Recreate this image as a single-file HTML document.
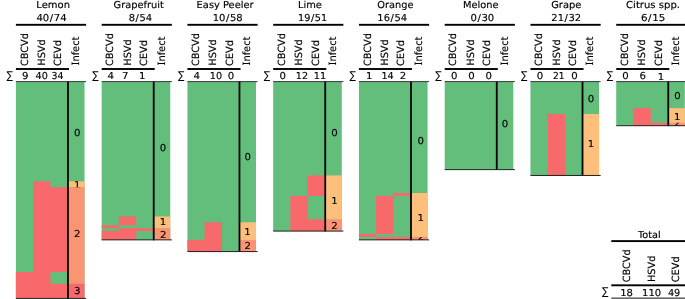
<!DOCTYPE html>
<html lang="en"><head><meta charset="utf-8"><title>Viroid infections</title>
<style>
html,body{margin:0;padding:0;background:#fff;}
body{width:685px;height:299px;overflow:hidden;}
svg{display:block;font-family:"DejaVu Sans","Liberation Sans",sans-serif;}
svg text{text-rendering:geometricPrecision;font-size:9.6px;fill:#000;stroke:#000;stroke-width:0.15px;}
svg text.sg{font-size:10.9px;stroke-width:0;}
</style></head><body>
<svg width="685" height="299" viewBox="0 0 685 299">
<rect x="0" y="0" width="685" height="299" fill="#fff"/>
<text transform="translate(36.29,7.60) scale(1.0407,1)">Lemon</text>
<text transform="translate(36.41,20.65) scale(1.0475,1)">40<tspan dx="0.55">/</tspan><tspan dx="0.55">74</tspan></text>
<rect x="15.90" y="23.85" width="70.20" height="1.90" fill="#000"/>
<text transform="translate(27.55,65.96) scale(1.04,1) rotate(-90) scale(1.0104,1)">CBCVd</text>
<text transform="translate(44.95,65.64) scale(1.04,1) rotate(-90) scale(1.0124,1)">HSVd</text>
<text transform="translate(61.35,65.96) scale(1.04,1) rotate(-90) scale(1.0197,1)">CEVd</text>
<text transform="translate(78.75,65.46) scale(1.04,1) rotate(-90) scale(1.0236,1)"><tspan font-family="DejaVu Serif, Liberation Serif, serif">I</tspan>nfect</text>
<rect x="15.90" y="68.05" width="53.10" height="1.90" fill="#000"/>
<text transform="translate(21.97,78.80) scale(1.0600,1)">9</text>
<text transform="translate(35.62,78.80) scale(1.0044,1)">40</text>
<text transform="translate(51.49,78.80) scale(0.9708,1)">34</text>
<text class="sg" transform="translate(6.49,78.80) scale(0.8714,0.9900)">∑</text>
<rect x="15.90" y="81.80" width="68.60" height="216.60" fill="#63be7b"/>
<rect x="15.90" y="272.06" width="17.45" height="26.34" fill="#f8696b"/>
<rect x="33.05" y="181.32" width="17.45" height="117.08" fill="#f8696b"/>
<rect x="50.20" y="187.17" width="17.45" height="84.88" fill="#f8696b"/>
<rect x="50.20" y="283.76" width="17.45" height="14.63" fill="#f8696b"/>
<rect x="31.85" y="272.06" width="2.40" height="26.34" fill="#f8696b"/>
<rect x="49.00" y="187.17" width="2.40" height="84.88" fill="#f8696b"/>
<rect x="49.00" y="283.76" width="2.40" height="14.63" fill="#f8696b"/>
<rect x="67.35" y="181.32" width="17.15" height="6.15" fill="#fdc07c"/>
<rect x="67.35" y="187.17" width="17.15" height="96.89" fill="#fa9473"/>
<rect x="67.35" y="283.76" width="17.15" height="14.63" fill="#f8696b"/>
<clipPath id="c0_0"><rect x="67.35" y="81.80" width="17.15" height="99.52"/></clipPath>
<g clip-path="url(#c0_0)">
<text transform="translate(74.02,135.76) scale(1.0600,1)">0</text>
</g>
<clipPath id="c0_1"><rect x="67.35" y="181.32" width="17.15" height="5.85"/></clipPath>
<g clip-path="url(#c0_1)">
<text transform="translate(73.89,187.84) scale(1.0600,1)">1</text>
</g>
<clipPath id="c0_2"><rect x="67.35" y="187.17" width="17.15" height="96.59"/></clipPath>
<g clip-path="url(#c0_2)">
<text transform="translate(74.09,236.77) scale(1.0600,1)">2</text>
</g>
<clipPath id="c0_3"><rect x="67.35" y="283.76" width="17.15" height="14.63"/></clipPath>
<g clip-path="url(#c0_3)">
<text transform="translate(74.02,294.28) scale(1.0600,1)">3</text>
</g>
<rect x="15.90" y="81.20" width="70.20" height="0.90" fill="#222"/>
<rect x="67.05" y="81.60" width="1.80" height="217.20" fill="#000"/>
<rect x="15.90" y="297.90" width="70.20" height="1.00" fill="#222"/>
<text transform="translate(113.59,7.60) scale(1.0233,1)">Grapefruit</text>
<text transform="translate(128.65,20.65) scale(1.0326,1)">8<tspan dx="0.55">/</tspan><tspan dx="0.55">54</tspan></text>
<rect x="101.66" y="23.85" width="70.20" height="1.90" fill="#000"/>
<text transform="translate(113.31,65.96) scale(1.04,1) rotate(-90) scale(1.0104,1)">CBCVd</text>
<text transform="translate(130.71,65.64) scale(1.04,1) rotate(-90) scale(1.0124,1)">HSVd</text>
<text transform="translate(147.11,65.96) scale(1.04,1) rotate(-90) scale(1.0197,1)">CEVd</text>
<text transform="translate(164.51,65.46) scale(1.04,1) rotate(-90) scale(1.0236,1)"><tspan font-family="DejaVu Serif, Liberation Serif, serif">I</tspan>nfect</text>
<rect x="101.66" y="68.05" width="53.10" height="1.90" fill="#000"/>
<text transform="translate(107.57,78.80) scale(1.0600,1)">4</text>
<text transform="translate(121.90,78.80) scale(1.0600,1)">7</text>
<text transform="translate(138.89,78.80) scale(1.0600,1)">1</text>
<text class="sg" transform="translate(92.25,78.80) scale(0.8714,0.9900)">∑</text>
<rect x="101.66" y="81.80" width="68.60" height="158.06" fill="#63be7b"/>
<rect x="101.66" y="225.22" width="17.45" height="2.93" fill="#f8696b"/>
<rect x="101.66" y="231.08" width="17.45" height="8.78" fill="#f8696b"/>
<rect x="118.81" y="216.44" width="17.45" height="8.78" fill="#f8696b"/>
<rect x="118.81" y="228.15" width="17.45" height="11.71" fill="#f8696b"/>
<rect x="135.96" y="228.15" width="17.45" height="2.93" fill="#f8696b"/>
<rect x="117.61" y="231.08" width="2.40" height="8.78" fill="#f8696b"/>
<rect x="134.76" y="228.15" width="2.40" height="2.93" fill="#f8696b"/>
<rect x="153.11" y="216.44" width="17.15" height="12.01" fill="#fdc07c"/>
<rect x="153.11" y="228.15" width="17.15" height="11.71" fill="#fa9473"/>
<clipPath id="c1_0"><rect x="153.11" y="81.80" width="17.15" height="134.64"/></clipPath>
<g clip-path="url(#c1_0)">
<text transform="translate(159.83,151.12) scale(1.0600,1)">0</text>
</g>
<clipPath id="c1_1"><rect x="153.11" y="216.44" width="17.15" height="11.71"/></clipPath>
<g clip-path="url(#c1_1)">
<text transform="translate(159.70,225.10) scale(1.0600,1)">1</text>
</g>
<clipPath id="c1_2"><rect x="153.11" y="228.15" width="17.15" height="11.71"/></clipPath>
<g clip-path="url(#c1_2)">
<text transform="translate(159.90,238.00) scale(1.0600,1)">2</text>
</g>
<rect x="101.66" y="81.20" width="70.20" height="0.90" fill="#222"/>
<rect x="152.81" y="81.60" width="1.80" height="158.66" fill="#000"/>
<rect x="101.66" y="239.36" width="70.20" height="1.00" fill="#222"/>
<text transform="translate(196.60,7.60) scale(1.0288,1)">Easy Peeler</text>
<text transform="translate(212.66,20.65) scale(1.0433,1)">10<tspan dx="0.55">/</tspan><tspan dx="0.55">58</tspan></text>
<rect x="187.42" y="23.85" width="70.20" height="1.90" fill="#000"/>
<text transform="translate(199.07,65.96) scale(1.04,1) rotate(-90) scale(1.0104,1)">CBCVd</text>
<text transform="translate(216.47,65.64) scale(1.04,1) rotate(-90) scale(1.0124,1)">HSVd</text>
<text transform="translate(232.87,65.96) scale(1.04,1) rotate(-90) scale(1.0197,1)">CEVd</text>
<text transform="translate(250.27,65.46) scale(1.04,1) rotate(-90) scale(1.0236,1)"><tspan font-family="DejaVu Serif, Liberation Serif, serif">I</tspan>nfect</text>
<rect x="187.42" y="68.05" width="53.10" height="1.90" fill="#000"/>
<text transform="translate(193.57,78.80) scale(1.0600,1)">4</text>
<text transform="translate(209.79,78.80) scale(1.0071,1)">10</text>
<text transform="translate(227.87,78.80) scale(1.0600,1)">0</text>
<text class="sg" transform="translate(178.01,78.80) scale(0.8714,0.9900)">∑</text>
<rect x="187.42" y="81.80" width="68.60" height="169.77" fill="#63be7b"/>
<rect x="187.42" y="239.86" width="17.45" height="11.71" fill="#f8696b"/>
<rect x="204.57" y="222.30" width="17.45" height="29.27" fill="#f8696b"/>
<rect x="203.37" y="239.86" width="2.40" height="11.71" fill="#f8696b"/>
<rect x="238.87" y="222.30" width="17.15" height="17.86" fill="#fdc07c"/>
<rect x="238.87" y="239.86" width="17.15" height="11.71" fill="#fa9473"/>
<clipPath id="c2_0"><rect x="238.87" y="81.80" width="17.15" height="140.50"/></clipPath>
<g clip-path="url(#c2_0)">
<text transform="translate(244.44,160.05) scale(1.0600,1)">0</text>
</g>
<clipPath id="c2_1"><rect x="238.87" y="222.30" width="17.15" height="17.56"/></clipPath>
<g clip-path="url(#c2_1)">
<text transform="translate(244.31,234.58) scale(1.0600,1)">1</text>
</g>
<clipPath id="c2_2"><rect x="238.87" y="239.86" width="17.15" height="11.71"/></clipPath>
<g clip-path="url(#c2_2)">
<text transform="translate(244.51,249.21) scale(1.0600,1)">2</text>
</g>
<rect x="187.42" y="81.20" width="70.20" height="0.90" fill="#222"/>
<rect x="238.57" y="81.60" width="1.80" height="170.37" fill="#000"/>
<rect x="187.42" y="251.07" width="70.20" height="1.00" fill="#222"/>
<text transform="translate(297.90,7.60) scale(1.0286,1)">Lime</text>
<text transform="translate(297.99,20.65) scale(1.0148,1)">19<tspan dx="0.55">/</tspan><tspan dx="0.55">51</tspan></text>
<rect x="273.18" y="23.85" width="70.20" height="1.90" fill="#000"/>
<text transform="translate(284.83,65.96) scale(1.04,1) rotate(-90) scale(1.0104,1)">CBCVd</text>
<text transform="translate(302.23,65.64) scale(1.04,1) rotate(-90) scale(1.0124,1)">HSVd</text>
<text transform="translate(318.63,65.96) scale(1.04,1) rotate(-90) scale(1.0197,1)">CEVd</text>
<text transform="translate(336.03,65.46) scale(1.04,1) rotate(-90) scale(1.0236,1)"><tspan font-family="DejaVu Serif, Liberation Serif, serif">I</tspan>nfect</text>
<rect x="273.18" y="68.05" width="53.10" height="1.90" fill="#000"/>
<text transform="translate(279.42,78.80) scale(1.0600,1)">0</text>
<text transform="translate(295.80,78.80) scale(1.0024,1)">12</text>
<text transform="translate(313.78,78.80) scale(1.0217,1)">11</text>
<text class="sg" transform="translate(263.77,78.80) scale(0.8714,0.9900)">∑</text>
<rect x="273.18" y="81.80" width="68.60" height="149.28" fill="#63be7b"/>
<rect x="290.33" y="195.95" width="17.45" height="35.12" fill="#f8696b"/>
<rect x="307.48" y="175.46" width="17.45" height="20.49" fill="#f8696b"/>
<rect x="307.48" y="219.37" width="17.45" height="11.71" fill="#f8696b"/>
<rect x="306.28" y="219.37" width="2.40" height="11.71" fill="#f8696b"/>
<rect x="324.63" y="175.46" width="17.15" height="44.20" fill="#fdc07c"/>
<rect x="324.63" y="219.37" width="17.15" height="11.71" fill="#fa9473"/>
<clipPath id="c3_0"><rect x="324.63" y="81.80" width="17.15" height="93.66"/></clipPath>
<g clip-path="url(#c3_0)">
<text transform="translate(331.30,136.43) scale(1.0600,1)">0</text>
</g>
<clipPath id="c3_1"><rect x="324.63" y="175.46" width="17.15" height="43.91"/></clipPath>
<g clip-path="url(#c3_1)">
<text transform="translate(331.17,204.12) scale(1.0600,1)">1</text>
</g>
<clipPath id="c3_2"><rect x="324.63" y="219.37" width="17.15" height="11.71"/></clipPath>
<g clip-path="url(#c3_2)">
<text transform="translate(331.37,229.27) scale(1.0600,1)">2</text>
</g>
<rect x="273.18" y="81.20" width="70.20" height="0.90" fill="#222"/>
<rect x="324.33" y="81.60" width="1.80" height="149.88" fill="#000"/>
<rect x="273.18" y="230.58" width="70.20" height="1.00" fill="#222"/>
<text transform="translate(377.29,7.60) scale(1.0203,1)">Orange</text>
<text transform="translate(377.37,20.65) scale(1.0349,1)">16<tspan dx="0.55">/</tspan><tspan dx="0.55">54</tspan></text>
<rect x="358.94" y="23.85" width="70.20" height="1.90" fill="#000"/>
<text transform="translate(370.59,65.96) scale(1.04,1) rotate(-90) scale(1.0104,1)">CBCVd</text>
<text transform="translate(387.99,65.64) scale(1.04,1) rotate(-90) scale(1.0124,1)">HSVd</text>
<text transform="translate(404.39,65.96) scale(1.04,1) rotate(-90) scale(1.0197,1)">CEVd</text>
<text transform="translate(421.79,65.46) scale(1.04,1) rotate(-90) scale(1.0236,1)"><tspan font-family="DejaVu Serif, Liberation Serif, serif">I</tspan>nfect</text>
<rect x="358.94" y="68.05" width="53.10" height="1.90" fill="#000"/>
<text transform="translate(366.09,78.80) scale(1.0600,1)">1</text>
<text transform="translate(381.40,78.80) scale(1.0047,1)">14</text>
<text transform="translate(399.74,78.80) scale(1.0600,1)">2</text>
<text class="sg" transform="translate(349.53,78.80) scale(0.8714,0.9900)">∑</text>
<rect x="358.94" y="81.80" width="68.60" height="158.06" fill="#63be7b"/>
<rect x="358.94" y="234.00" width="17.45" height="2.93" fill="#f8696b"/>
<rect x="376.09" y="195.95" width="17.45" height="38.05" fill="#f8696b"/>
<rect x="376.09" y="236.93" width="17.45" height="2.93" fill="#f8696b"/>
<rect x="393.24" y="193.03" width="17.45" height="2.93" fill="#f8696b"/>
<rect x="393.24" y="236.93" width="17.45" height="2.93" fill="#f8696b"/>
<rect x="392.04" y="236.93" width="2.40" height="2.93" fill="#f8696b"/>
<rect x="410.39" y="193.03" width="17.15" height="44.20" fill="#fdc07c"/>
<rect x="410.39" y="236.93" width="17.15" height="2.93" fill="#fa9473"/>
<clipPath id="c4_0"><rect x="410.39" y="81.80" width="17.15" height="111.23"/></clipPath>
<g clip-path="url(#c4_0)">
<text transform="translate(417.56,143.51) scale(1.0600,1)">0</text>
</g>
<clipPath id="c4_1"><rect x="410.39" y="193.03" width="17.15" height="43.91"/></clipPath>
<g clip-path="url(#c4_1)">
<text transform="translate(417.43,220.98) scale(1.0600,1)">1</text>
</g>
<clipPath id="c4_2"><rect x="410.39" y="236.93" width="17.15" height="2.93"/></clipPath>
<g clip-path="url(#c4_2)">
<text transform="translate(417.63,240.09) scale(1.0600,1)">2</text>
</g>
<rect x="358.94" y="81.20" width="70.20" height="0.90" fill="#222"/>
<rect x="410.09" y="81.60" width="1.80" height="158.66" fill="#000"/>
<rect x="358.94" y="239.36" width="70.20" height="1.00" fill="#222"/>
<text transform="translate(462.90,7.60) scale(1.0247,1)">Melone</text>
<text transform="translate(470.48,20.65) scale(1.0497,1)">0<tspan dx="0.55">/</tspan><tspan dx="0.55">30</tspan></text>
<rect x="444.70" y="23.85" width="70.20" height="1.90" fill="#000"/>
<text transform="translate(456.35,65.96) scale(1.04,1) rotate(-90) scale(1.0104,1)">CBCVd</text>
<text transform="translate(473.75,65.64) scale(1.04,1) rotate(-90) scale(1.0124,1)">HSVd</text>
<text transform="translate(490.15,65.96) scale(1.04,1) rotate(-90) scale(1.0197,1)">CEVd</text>
<text transform="translate(507.55,65.46) scale(1.04,1) rotate(-90) scale(1.0236,1)"><tspan font-family="DejaVu Serif, Liberation Serif, serif">I</tspan>nfect</text>
<rect x="444.70" y="68.05" width="53.10" height="1.90" fill="#000"/>
<text transform="translate(451.07,78.80) scale(1.0600,1)">0</text>
<text transform="translate(468.22,78.80) scale(1.0600,1)">0</text>
<text transform="translate(485.47,78.80) scale(1.0600,1)">0</text>
<text class="sg" transform="translate(435.29,78.80) scale(0.8714,0.9900)">∑</text>
<rect x="444.70" y="81.80" width="68.60" height="87.81" fill="#63be7b"/>
<clipPath id="c5_0"><rect x="496.15" y="81.80" width="17.15" height="87.81"/></clipPath>
<g clip-path="url(#c5_0)">
<text transform="translate(501.77,127.20) scale(1.0600,1)">0</text>
</g>
<rect x="444.70" y="81.20" width="70.20" height="0.90" fill="#222"/>
<rect x="495.85" y="81.60" width="1.80" height="88.41" fill="#000"/>
<rect x="444.70" y="169.11" width="70.20" height="1.00" fill="#222"/>
<text transform="translate(551.18,7.60) scale(1.0301,1)">Grape</text>
<text transform="translate(551.35,20.65) scale(1.0349,1)">21<tspan dx="0.55">/</tspan><tspan dx="0.55">32</tspan></text>
<rect x="530.46" y="23.85" width="70.20" height="1.90" fill="#000"/>
<text transform="translate(542.11,65.96) scale(1.04,1) rotate(-90) scale(1.0104,1)">CBCVd</text>
<text transform="translate(559.51,65.64) scale(1.04,1) rotate(-90) scale(1.0124,1)">HSVd</text>
<text transform="translate(575.91,65.96) scale(1.04,1) rotate(-90) scale(1.0197,1)">CEVd</text>
<text transform="translate(593.31,65.46) scale(1.04,1) rotate(-90) scale(1.0236,1)"><tspan font-family="DejaVu Serif, Liberation Serif, serif">I</tspan>nfect</text>
<rect x="530.46" y="68.05" width="53.10" height="1.90" fill="#000"/>
<text transform="translate(536.72,78.80) scale(1.0600,1)">0</text>
<text transform="translate(552.91,78.80) scale(0.9488,1)">21</text>
<text transform="translate(571.37,78.80) scale(1.0600,1)">0</text>
<text class="sg" transform="translate(521.05,78.80) scale(0.8714,0.9900)">∑</text>
<rect x="530.46" y="81.80" width="68.60" height="93.66" fill="#63be7b"/>
<rect x="547.61" y="114.00" width="17.45" height="61.47" fill="#f8696b"/>
<rect x="581.91" y="114.00" width="17.15" height="61.47" fill="#fdc07c"/>
<clipPath id="c6_0"><rect x="581.91" y="81.80" width="17.15" height="32.20"/></clipPath>
<g clip-path="url(#c6_0)">
<text transform="translate(587.78,102.20) scale(1.0600,1)">0</text>
</g>
<clipPath id="c6_1"><rect x="581.91" y="114.00" width="17.15" height="61.47"/></clipPath>
<g clip-path="url(#c6_1)">
<text transform="translate(587.65,146.83) scale(1.0600,1)">1</text>
</g>
<rect x="530.46" y="81.20" width="70.20" height="0.90" fill="#222"/>
<rect x="581.61" y="81.60" width="1.80" height="94.26" fill="#000"/>
<rect x="530.46" y="174.96" width="70.20" height="1.00" fill="#222"/>
<text transform="translate(626.08,7.60) scale(1.0480,1)">Citrus spp.</text>
<text transform="translate(640.93,20.65) scale(1.0729,1)">6<tspan dx="0.55">/</tspan><tspan dx="0.55">15</tspan></text>
<rect x="616.22" y="23.85" width="70.20" height="1.90" fill="#000"/>
<text transform="translate(627.87,65.96) scale(1.04,1) rotate(-90) scale(1.0104,1)">CBCVd</text>
<text transform="translate(645.27,65.64) scale(1.04,1) rotate(-90) scale(1.0124,1)">HSVd</text>
<text transform="translate(661.67,65.96) scale(1.04,1) rotate(-90) scale(1.0197,1)">CEVd</text>
<text transform="translate(679.07,65.46) scale(1.04,1) rotate(-90) scale(1.0236,1)"><tspan font-family="DejaVu Serif, Liberation Serif, serif">I</tspan>nfect</text>
<rect x="616.22" y="68.05" width="53.10" height="1.90" fill="#000"/>
<text transform="translate(622.32,78.80) scale(1.0600,1)">0</text>
<text transform="translate(639.54,78.80) scale(1.0600,1)">6</text>
<text transform="translate(657.64,79.70) scale(1.0600,1)">1</text>
<text class="sg" transform="translate(606.81,78.80) scale(0.8714,0.9900)">∑</text>
<rect x="616.22" y="81.80" width="68.60" height="43.91" fill="#63be7b"/>
<rect x="633.37" y="108.14" width="17.45" height="17.56" fill="#f8696b"/>
<rect x="650.52" y="122.78" width="17.45" height="2.93" fill="#f8696b"/>
<rect x="649.32" y="122.78" width="2.40" height="2.93" fill="#f8696b"/>
<rect x="667.67" y="108.14" width="17.15" height="14.94" fill="#fdc07c"/>
<rect x="667.67" y="122.78" width="17.15" height="2.93" fill="#fa9473"/>
<clipPath id="c7_0"><rect x="667.67" y="81.80" width="17.15" height="26.34"/></clipPath>
<g clip-path="url(#c7_0)">
<text transform="translate(674.14,98.57) scale(1.0600,1)">0</text>
</g>
<clipPath id="c7_1"><rect x="667.67" y="108.14" width="17.15" height="14.63"/></clipPath>
<g clip-path="url(#c7_1)">
<text transform="translate(674.01,119.51) scale(1.0600,1)">1</text>
</g>
<clipPath id="c7_2"><rect x="667.67" y="122.78" width="17.15" height="2.93"/></clipPath>
<g clip-path="url(#c7_2)">
<text transform="translate(674.21,125.74) scale(1.0600,1)">2</text>
</g>
<rect x="616.22" y="81.20" width="70.20" height="0.90" fill="#222"/>
<rect x="667.37" y="81.60" width="1.80" height="44.51" fill="#000"/>
<rect x="616.22" y="125.20" width="70.20" height="1.00" fill="#222"/>
<rect x="611.30" y="240.15" width="80.00" height="1.90" fill="#000"/>
<text transform="translate(630.25,282.26) scale(1.04,1) rotate(-90) scale(1.0104,1)">CBCVd</text>
<text transform="translate(654.75,281.94) scale(1.04,1) rotate(-90) scale(1.0124,1)">HSVd</text>
<text transform="translate(679.25,282.26) scale(1.04,1) rotate(-90) scale(1.0197,1)">CEVd</text>
<rect x="611.30" y="284.35" width="80.00" height="1.90" fill="#000"/>
<text transform="translate(620.16,295.50) scale(1.0447,1)">18</text>
<text transform="translate(642.06,295.50) scale(1.0448,1)">110</text>
<text transform="translate(667.92,295.50) scale(1.0133,1)">49</text>
<text class="sg" transform="translate(601.89,295.10) scale(0.8714,0.9900)">∑</text>
<rect x="611.30" y="297.65" width="80.00" height="0.95" fill="#000"/>
<text transform="translate(638.03,237.80) scale(1.0115,1)">Total</text>
</svg>
</body></html>
